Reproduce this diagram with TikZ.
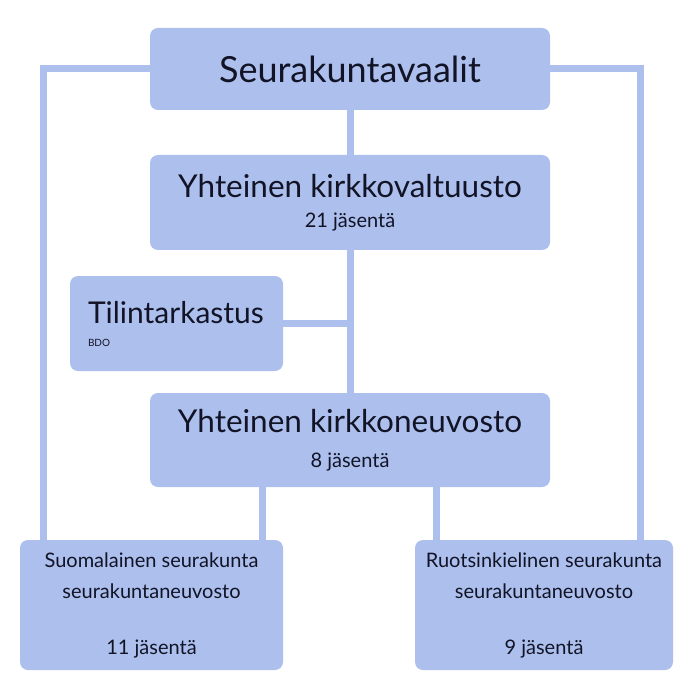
\documentclass[tikz,border=0pt]{standalone}
\usepackage{fontspec}
\setmainfont{Lato}
\usetikzlibrary{backgrounds}
\definecolor{laatikko}{RGB}{172,191,237}
\definecolor{teksti}{RGB}{18,20,38}
\begin{document}
\begin{tikzpicture}[x=1pt,y=-1pt, line join=round, line cap=butt]
	\tikzset{elin/.style={fill=laatikko, rounded corners=8pt, inner sep=0pt, text=teksti, align=center},
		yhteys/.style={draw=laatikko, line width=7pt}}
	\def\isot{\fontsize{31.5}{32}\selectfont}\def\pienet{\fontsize{20}{32}\selectfont}
	\useasboundingbox (0,0) rectangle (700,700);
	\node[elin, minimum width=400pt, minimum height=82pt, font=\fontsize{36}{40}\selectfont] (vaalit) at (350,69) {Seurakuntavaalit};
	\node[elin, minimum width=400pt, minimum height=95pt] (valtuusto) at (350,202.5) {\isot Yhteinen kirkkovaltuusto\\[14pt]\pienet 21 jäsentä};
	\node[elin, minimum width=213pt, minimum height=95pt, align=left, text width=177pt] (tilin) at (176.5,323.5) {\fontsize{30}{23}\selectfont Tilintarkastus\\[11pt]\fontsize{10}{23}\selectfont BDO};
	\node[elin, minimum width=400pt, minimum height=94pt] (neuvosto) at (350,440) {\isot Yhteinen kirkkoneuvosto\\[19pt]\pienet 8 jäsentä};
	\node[elin, minimum width=263pt, minimum height=130pt, font=\fontsize{20}{31}\selectfont] (suomi) at (151.5,605) {Suomalainen seurakunta\\seurakuntaneuvosto\\[25pt]11 jäsentä};
	\node[elin, minimum width=258pt, minimum height=130pt, font=\fontsize{20}{31}\selectfont] (ruotsi) at (544,605) {Ruotsinkielinen seurakunta\\seurakuntaneuvosto\\[25pt]9 jäsentä};
	\coordinate (vasen) at (43,540);
	\coordinate (oikea) at (640,540);
	% yhteydet taustalle
	\begin{scope}[on background layer]
		\draw[yhteys] (vaalit.center) -- (neuvosto.center);
		\draw[yhteys] (vaalit.west) -| (vasen);
		\draw[yhteys] (vaalit.east) -| (oikea);
		\draw[yhteys] (tilin.east) -- (tilin.east -| valtuusto.south);
		\draw[yhteys] ([xshift=-21pt]suomi.north east) -- ([xshift=-21pt]suomi.north east |- neuvosto.south);
		\draw[yhteys] ([xshift=22pt]ruotsi.north west) -- ([xshift=22pt]ruotsi.north west |- neuvosto.south);
	\end{scope}
\end{tikzpicture}
\end{document}
